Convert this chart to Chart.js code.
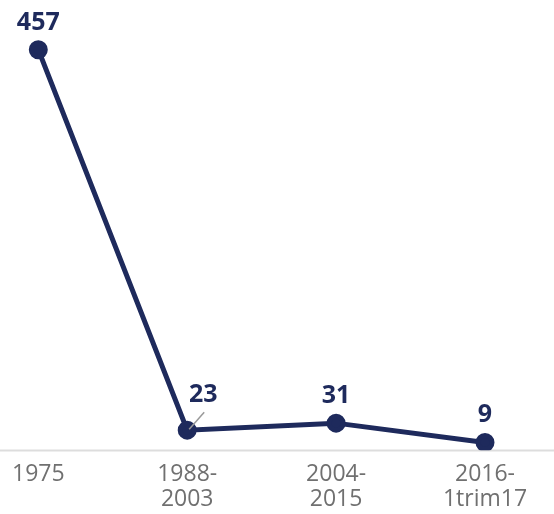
<!DOCTYPE html>
<html>
<head>
<meta charset="utf-8">
<script src="https://cdn.jsdelivr.net/npm/chart.js@4/dist/chart.umd.min.js"></script>
<style>
  html, body { margin: 0; padding: 0; background: #fff; }
  #wrap { width: 554px; height: 514px; position: relative; }
</style>
</head>
<body>
<div id="wrap"><canvas id="chart"></canvas></div>
<script>
// Données
const periodes = [["1975"], ["1988-", "2003"], ["2004-", "2015"], ["2016-", "1trim17"]];
const valeurs = [457, 23, 31, 9];

const BLEU = "#1e2a5c";

// Étiquettes de valeur au-dessus des points (le 23 est décalé avec un trait)
const etiquettes = {
  id: "etiquettes",
  afterDatasetsDraw(chart) {
    const ctx = chart.ctx;
    const meta = chart.getDatasetMeta(0);
    ctx.save();
    ctx.font = "bold 25px 'Open Sans', sans-serif";
    ctx.fillStyle = BLEU;
    ctx.textAlign = "center";
    ctx.textBaseline = "alphabetic";
    meta.data.forEach((pt, i) => {
      let x = pt.x, y = pt.y - 20;
      if (i === 1) {
        x = pt.x + 16;
        y = pt.y - 28;
        ctx.strokeStyle = "#999999";
        ctx.lineWidth = 1.5;
        ctx.beginPath();
        ctx.moveTo(pt.x + 2, pt.y - 1);
        ctx.lineTo(pt.x + 17, pt.y - 18);
        ctx.stroke();
      }
      ctx.fillText(String(valeurs[i]), x, y);
    });
    ctx.restore();
  }
};

// Ligne de base sur toute la largeur
const ligneBase = {
  id: "ligneBase",
  beforeDatasetsDraw(chart) {
    const ctx = chart.ctx;
    const y0 = Math.round(chart.scales.y.getPixelForValue(0)) + 0.5;
    ctx.save();
    ctx.strokeStyle = "#dddddd";
    ctx.lineWidth = 2;
    ctx.beginPath();
    ctx.moveTo(0, y0);
    ctx.lineTo(chart.width, y0);
    ctx.stroke();
    ctx.restore();
  }
};

new Chart(document.getElementById("chart"), {
  type: "line",
  data: {
    labels: periodes,
    datasets: [{
      data: valeurs,
      borderColor: BLEU,
      backgroundColor: BLEU,
      borderWidth: 5,
      pointRadius: 7,
      pointHoverRadius: 7,
      tension: 0
    }]
  },
  options: {
    responsive: true,
    maintainAspectRatio: false,
    animation: false,
    layout: { padding: { left: 36, right: 69, top: 5, bottom: -10 } },
    plugins: { legend: { display: false }, tooltip: { enabled: false } },
    scales: {
      x: {
        offset: false,
        grid: { display: false, drawTicks: false },
        border: { display: false },
        ticks: {
          color: "#707070",
          font: { family: "'Open Sans', sans-serif", size: 23, lineHeight: 1.08 },
          padding: 12,
          maxRotation: 0,
          autoSkip: false
        }
      },
      y: {
        display: false,
        min: 0,
        max: 500
      }
    }
  },
  plugins: [ligneBase, etiquettes]
});
</script>
</body>
</html>
